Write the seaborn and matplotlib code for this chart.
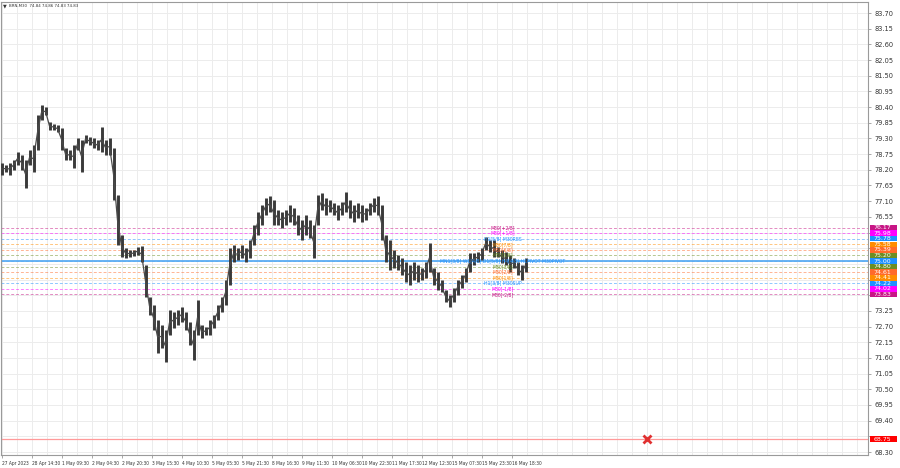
import matplotlib
matplotlib.use("Agg")
import matplotlib.pyplot as plt
import matplotlib.transforms as mtransforms
from matplotlib import font_manager
from matplotlib.patches import Rectangle
from matplotlib.ticker import FixedLocator, MultipleLocator
import pandas as pd
import seaborn as sns

symbol_title = "BRN,M30  74.84 74.86 74.83 74.83"

# high / low of each (merged) bar
bar_high = [78.44, 78.37, 78.44, 78.54, 78.82, 78.72, 78.54, 78.89, 79.07, 80.12,
            80.47, 80.40, 79.88, 79.81, 79.77, 79.66, 78.96, 78.89, 79.07, 79.31,
            79.24, 79.42, 79.35, 79.31, 79.24, 79.70, 79.24, 79.31, 78.96, 77.31,
            75.91, 75.45, 75.38, 75.38, 75.49, 75.52, 74.86, 73.74, 73.45, 72.93,
            72.75, 72.58, 73.28, 73.21, 73.28, 73.38, 73.21, 72.86, 72.58, 73.63,
            72.75, 72.68, 72.93, 73.10, 73.45, 73.74, 74.33, 75.45, 75.56, 75.45,
            75.56, 75.45, 75.73, 76.26, 76.72, 76.96, 77.21, 77.28, 77.14, 76.79,
            76.72, 76.79, 76.96, 76.86, 76.61, 76.44, 76.61, 76.44, 76.26, 77.31,
            77.38, 77.21, 77.14, 77.03, 76.96, 77.07, 77.42, 77.14, 76.96, 77.03,
            76.96, 76.86, 77.03, 77.21, 77.28, 76.96, 75.91, 75.73, 75.38, 75.21,
            75.10, 74.96, 74.86, 74.96, 74.86, 74.75, 74.96, 75.63, 74.75, 74.61,
            74.33, 73.98, 73.81, 74.05, 74.33, 74.51, 74.75, 75.28, 75.28, 75.31,
            75.45, 75.84, 75.73, 75.73, 75.49, 75.38, 75.31, 75.21, 75.10, 74.96,
            74.86, 75.10]
bar_low = [78.02, 78.12, 78.02, 78.19, 78.37, 78.19, 77.56, 78.37, 78.12, 78.89,
           79.95, 80.12, 79.59, 79.59, 79.52, 78.89, 78.54, 78.54, 78.26, 78.89,
           78.12, 79.14, 79.07, 78.96, 78.89, 78.82, 78.72, 78.72, 77.14, 75.56,
           75.14, 75.10, 75.14, 75.17, 75.21, 74.96, 73.74, 73.10, 72.58, 71.77,
           71.95, 71.45, 72.40, 72.65, 72.75, 72.86, 72.58, 72.05, 71.52, 72.40,
           72.30, 72.40, 72.40, 72.65, 72.93, 73.21, 73.45, 74.16, 74.96, 75.03,
           75.10, 74.96, 75.10, 75.56, 75.91, 76.26, 76.61, 76.72, 76.26, 76.26,
           76.16, 76.26, 76.37, 76.26, 75.91, 75.73, 75.91, 75.80, 75.10, 76.26,
           76.79, 76.61, 76.72, 76.61, 76.44, 76.61, 76.72, 76.51, 76.37, 76.51,
           76.37, 76.44, 76.61, 76.72, 76.61, 75.73, 74.96, 74.68, 74.75, 74.68,
           74.51, 74.26, 74.16, 74.33, 74.26, 74.33, 74.40, 74.61, 74.16, 73.98,
           73.91, 73.56, 73.38, 73.56, 73.81, 74.05, 74.26, 74.61, 74.86, 74.96,
           75.03, 75.38, 75.31, 75.14, 75.14, 74.93, 74.86, 74.61, 74.75, 74.51,
           74.33, 74.61]

date_labels = ["27 Apr 2023", "28 Apr 14:30", "1 May 09:30", "2 May 04:30",
               "2 May 20:30", "3 May 15:30", "4 May 10:30", "5 May 05:30",
               "5 May 21:30", "8 May 16:30", "9 May 11:30", "10 May 06:30",
               "10 May 22:30", "11 May 17:30", "12 May 12:30", "15 May 07:30",
               "15 May 23:30", "16 May 18:30"]

price_ticks = [68.30, 68.85, 69.40, 69.95, 70.50, 71.05, 71.60, 72.15, 72.70,
               73.25, 73.80, 74.35, 74.90, 75.45, 76.00, 76.55, 77.10, 77.65,
               78.20, 78.75, 79.30, 79.85, 80.40, 80.95, 81.50, 82.05, 82.60,
               83.15, 83.70]
# labels covered by the coloured price tags
hidden_ticks = [68.85, 73.80, 74.35, 74.90, 75.45, 76.00]

level_prices = [76.17, 75.98, 75.78, 75.58, 75.39, 75.20, 75.00,
                74.80, 74.61, 74.41, 74.22, 74.02, 73.83]
level_names = ["M30[+2/8]", "M30[+1/8]", "H1[5/8] M30RES", "M30[7/8]", "M30[6/8]",
               "M30[5/8]", "MN1[3/8] W1[4/8] D1[5/8] H4[4/8] H1PIVOT M30PIVOT",
               "M30[3/8]", "M30[2/8]", "M30[1/8]", "H1[3/8] M30SUP",
               "M30[-1/8]", "M30[-2/8]"]
level_colors = ["#C71585", "#FF00FF", "#1E90FF", "#FF8C00", "#FF6A2A", "#6B8E23",
                "#1E90FF", "#6B8E23", "#FF6A2A", "#FF8C00", "#1E90FF", "#FF00FF",
                "#C71585"]

stop_price = 68.75
stop_bar = 161.4

df = pd.DataFrame({"bar": range(len(bar_high)), "high": bar_high, "low": bar_low})
df["mid"] = (df["high"] + df["low"]) / 2

sns.set_style("white")
plt.rcParams["font.family"] = ["DejaVu Sans"]

# narrow font for the small chart texts, if there is one
fonts = font_manager.fontManager.ttflist
names = {f.name for f in fonts}
small_stretch = "normal"
if "Liberation Sans Narrow" in names:
    small_font, small_scale = "Liberation Sans Narrow", 1.0
elif any(f.name == "DejaVu Sans" and f.stretch == "condensed" for f in fonts):
    small_font, small_scale, small_stretch = "DejaVu Sans", 0.8, "condensed"
else:
    small_font, small_scale = "DejaVu Sans", 0.74

fig = plt.figure(figsize=(9, 4.68), dpi=100)
ax = fig.add_axes([1 / 900, 13 / 468, 867 / 900, 453 / 468])

# grid
ax.set_xlim(-0.125, 216.625)
ax.set_ylim(68.195, 84.086)
ax.xaxis.set_major_locator(FixedLocator([7.5 * i for i in range(len(date_labels))]))
ax.xaxis.set_minor_locator(MultipleLocator(3.75))
ax.yaxis.set_major_locator(FixedLocator(price_ticks))
ax.grid(True, which="both", axis="x", color="#ececec", lw=0.7)
ax.grid(True, which="major", axis="y", color="#ececec", lw=0.7)
ax.set_axisbelow(True)

# levels
for p, c in zip(level_prices, level_colors):
    ax.axhline(p, color=c, lw=0.7, ls=(0, (3, 2)), alpha=0.5, zorder=1)
ax.axhline(75.00, color="#5AACF2", lw=1.3, zorder=1)
ax.axhline(stop_price, color="#FF9A9A", lw=0.9, zorder=1)

# price bars
ax.vlines(df["bar"], df["low"], df["high"], color="#3a3a3a", lw=2.1, zorder=3)
sns.lineplot(data=df, x="bar", y="mid", ax=ax, color="#4a4a4a", lw=0.9, zorder=3)

for p, c, name in zip(level_prices, level_colors, level_names):
    ax.text(125.4, p, name, color=c, fontsize=4.6 * small_scale, family=small_font,
            fontstretch=small_stretch, ha="center", va="center", zorder=4)

ax.plot([stop_bar], [stop_price], marker="x", color="#E03030", ms=6, mew=2, zorder=5)

# axes look
for s in ax.spines.values():
    s.set_color("#9a9a9a")
    s.set_linewidth(0.8)
ax.yaxis.tick_right()
ax.set_yticklabels(["" if t in hidden_ticks else f"{t:.2f}" for t in price_ticks])
ax.set_xticklabels(date_labels, ha="left", family=small_font, fontstretch=small_stretch)
ax.tick_params(axis="y", which="major", length=2.5, width=0.6, color="#9a9a9a",
               labelsize=4.8, labelcolor="#333333", pad=2.5, right=True, left=False)
ax.tick_params(axis="x", which="major", length=2.5, width=0.6, color="#9a9a9a",
               labelsize=4.4 * small_scale, labelcolor="#333333", pad=1.5, bottom=True)
ax.tick_params(axis="x", which="minor", length=0)
ax.set_xlabel("")
ax.set_ylabel("")

# coloured price tags on the right
trans = mtransforms.blended_transform_factory(ax.transAxes, ax.transData)
tag_prices = level_prices + [stop_price]
tag_colors = level_colors + ["#FF0000"]
for p, c in zip(tag_prices, tag_colors):
    ax.add_patch(Rectangle((1.002, p - 0.095), 0.031, 0.19, transform=trans,
                           facecolor=c, edgecolor="none", clip_on=False, zorder=6))
    ax.text(1.006, p, f"{p:.2f}", transform=trans, color="white", fontsize=4.5,
            ha="left", va="center", clip_on=False, zorder=7)

fig.text(3 / 900, 1 - 6 / 468, "\u25bc", fontsize=3.5, color="#333333", va="center")
fig.text(9 / 900, 1 - 6 / 468, symbol_title, fontsize=4.0 * small_scale,
         family=small_font, fontstretch=small_stretch, color="#333333", va="center")

fig.savefig("out.png", dpi=100)
